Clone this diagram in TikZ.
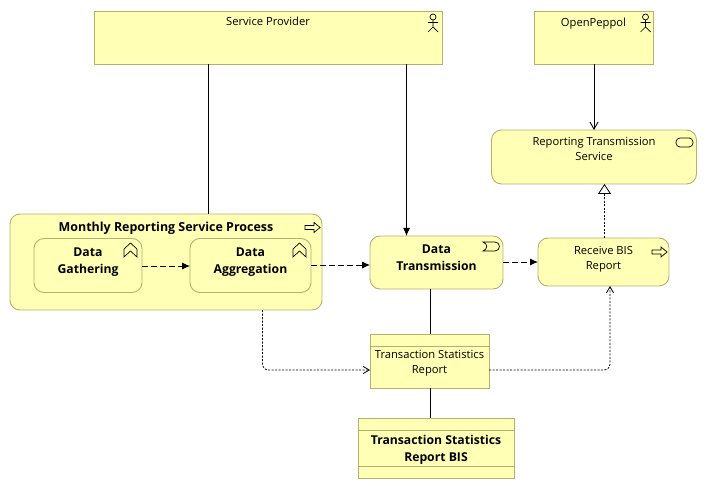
\documentclass[tikz,border=0pt]{standalone}
\usepackage{fontspec}
\setmainfont{Open Sans}
\usetikzlibrary{arrows.meta,positioning}
\definecolor{elemfill}{HTML}{FFFFB5}
\definecolor{elemline}{HTML}{B2B26E}
\newcommand{\toptext}[4]{\parbox[c][#2pt][t]{#1pt}{\centering\rule{0pt}{#3pt}#4}}
\tikzset{
    elem/.style={draw=elemline,fill=elemfill,line width=.9pt,inner sep=0pt,outer sep=0pt,font=\fontsize{11.2}{15}\selectfont},
    round/.style={elem,rounded corners=10pt},
    strong/.style={font=\fontsize{12.2}{17}\selectfont\bfseries},
    sepline/.style={draw=elemline,line width=.9pt},
    icon/.style={draw=black,line width=.7pt},
    solidline/.style={line width=.9pt},
    dashline/.style={line width=.9pt,dash pattern=on 6pt off 3pt,-{Latex[length=8pt,width=7pt]}},
    dotline/.style={line width=.8pt,dash pattern=on 2pt off 1.5pt,rounded corners=6pt,-{Straight Barb[length=6pt,width=7pt]}},
    actoricon/.pic={
        \draw[icon] (0,3) circle (3);
        \draw[icon] (0,6) -- (0,13) (-5,8.5) -- (5,8.5) (-5,18) -- (0,13) -- (5,18);
    },
    processicon/.pic={
        \draw[icon] (0,3) -- (9,3) -- (9,0) -- (15,5) -- (9,10) -- (9,7) -- (0,7) -- cycle;
    },
    functionicon/.pic={
        \draw[icon] (-6.5,6) -- (0,0) -- (6.5,6) -- (6.5,14) -- (0,8) -- (-6.5,14) -- cycle;
    },
    serviceicon/.pic={
        \draw[icon,rounded corners=4pt] (0,0) rectangle (17,9);
    },
    interactionicon/.pic={
        \draw[icon] (0,0) -- (12,0) arc (-90:90:4.5) -- (0,9) .. controls (5,7) and (5,2) .. (0,0) -- cycle;
    }
}
\begin{document}
\begin{tikzpicture}[x=1pt,y=-1pt]
    \useasboundingbox (0,0) rectangle (707,489);
    % elements
    \node[elem] (sp) at (268,37.5) {\toptext{348}{53}{15}{Service Provider}};
    \node[elem] (op) at (593.5,37.5) {\toptext{119}{53}{16}{OpenPeppol}};
    \node[round] (rts) at (594,157) {\toptext{205}{54}{16}{Reporting Transmission\\Service}};
    \node[round,strong,font=\fontsize{12.45}{17}\selectfont\bfseries] (mrsp) at (166,262) {\toptext{312}{96}{18}{Monthly Reporting Service Process}};
    \node[round,strong] (dg) at (88,265.5) {\toptext{108}{54}{18}{Data\\Gathering}};
    \node[round,strong] (da) at (250.5,265.5) {\toptext{121}{54}{18}{Data\\Aggregation}};
    \node[round,strong] (dt) at (436.5,262.5) {\toptext{133}{53}{17}{Data\\Transmission}};
    \node[round] (rbr) at (603.5,262) {\toptext{131}{48}{16}{Receive BIS\\Report}};
    \node[elem] (tsr) at (429.5,361) {\toptext{119}{54}{24}{Transaction Statistics\\Report}};
    \node[elem,strong] (tsb) at (436,448) {\toptext{156}{60}{26}{Transaction Statistics\\Report BIS}};
    \draw[sepline] (tsr.west |- 0,346) -- (tsr.east |- 0,346);
    \draw[sepline] (tsb.west |- 0,430.5) -- (tsb.east |- 0,430.5);
    \draw[sepline] (tsb.west |- 0,466) -- (tsb.east |- 0,466);
    % icons
    \pic at (433,14) {actoricon};
    \pic at (645.5,14) {actoricon};
    \pic at (676,138) {serviceicon};
    \pic at (305,222.5) {processicon};
    \pic at (652,247) {processicon};
    \pic at (130.5,243) {functionicon};
    \pic at (299.5,243) {functionicon};
    \pic at (483,242) {interactionicon};
    % connectors
    \coordinate (a) at (208.5,0);
    \coordinate (b) at (406.5,0);
    \coordinate (c) at (594,0);
    \coordinate (d) at (604.5,0);
    \coordinate (e) at (430.5,0);
    \coordinate (f) at (262.5,370);
    \coordinate (g) at (610,370);
    \draw[solidline] (a |- sp.south) -- (a |- mrsp.north);
    \draw[solidline,-{Latex[length=8pt,width=7pt]}] (b |- sp.south) -- (b |- dt.north);
    \draw[solidline,-{Straight Barb[length=7pt,width=8pt]}] (c |- op.south) -- (c |- rts.north);
    \draw[dotline,-{Triangle[open,fill=white,length=10pt,width=13pt]}] (d |- rbr.north) -- (d |- rts.south);
    \draw[dashline] (dg.east |- 0,266) -- (da.west |- 0,266);
    \draw[dashline] (da.east |- 0,265) -- (dt.west |- 0,265);
    \draw[dashline] (dt.east |- 0,262) -- (rbr.west |- 0,262);
    \draw[solidline] (e |- dt.south) -- (e |- tsr.north);
    \draw[solidline] (e |- tsr.south) -- (e |- tsb.north);
    \draw[dotline] (f |- mrsp.south) -- (f) -- (tsr.west |- f);
    \draw[dotline] (tsr.east |- g) -- (g) -- (g |- rbr.south);
\end{tikzpicture}
\end{document}
